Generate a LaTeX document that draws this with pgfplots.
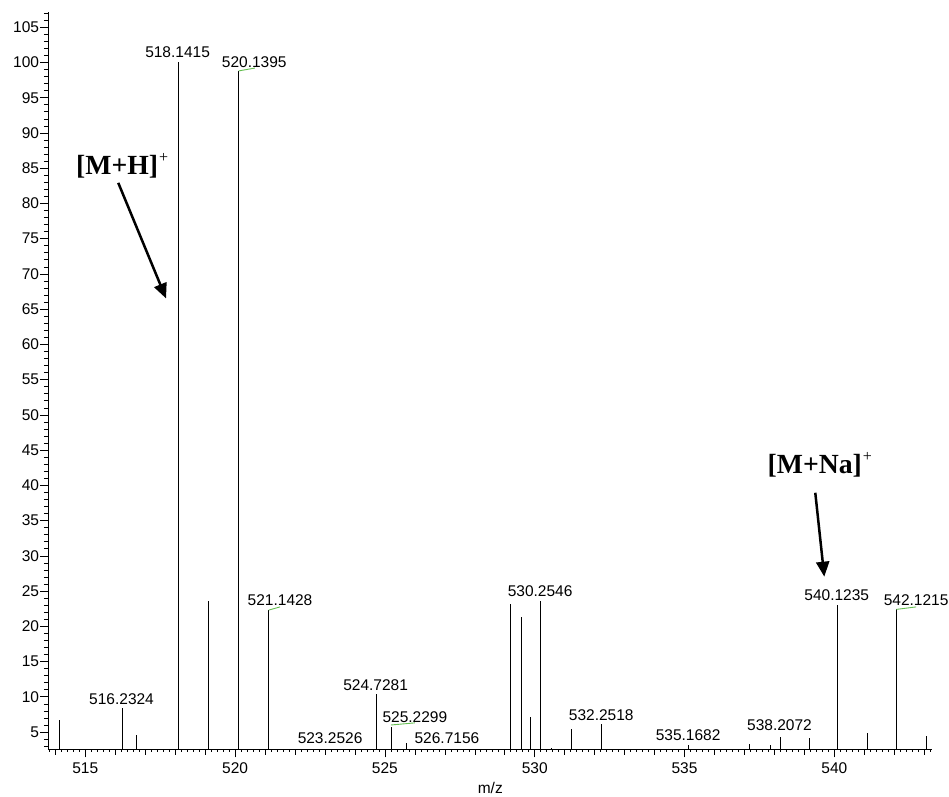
\documentclass[border=0pt]{standalone}
\usepackage{fontspec}
\setmainfont{Liberation Sans}
\newfontfamily\timesfont{Liberation Serif}
\usepackage{pgfplots}
\pgfplotsset{compat=1.18}
\usetikzlibrary{arrows.meta}
\definecolor{lblgreen}{RGB}{100,190,80}
\tikzset{lbl/.style={anchor=base, inner sep=0pt, font=\fontsize{15.5}{18}\selectfont}}
\begin{document}
\fontsize{15.5}{18}\selectfont
\begin{tikzpicture}
\path[use as bounding box] (-48.3pt,-46.7pt) rectangle (900.7pt,749.3pt);
\begin{axis}[
  scale only axis, width=884pt, height=737.6pt,
  at={(0pt,0pt)}, anchor=south west,
  xmin=513.765, xmax=543.27, ymin=2.55, ymax=107.2,
  axis x line=bottom, axis y line=left,
  x axis line style={-}, y axis line style={-},
  axis line style={line width=0.7pt},
  tick align=outside,
  tick style={black, line width=0.6pt},
  xtick={515,520,...,540},
  minor xtick={513.8,514.0,...,543.2},
  ytick={5,10,...,105},
  major tick length=8pt, minor tick length=2.5pt,
  extra x ticks={514,...,543},
  extra x tick labels={},
  extra x tick style={major tick length=5.5pt},
  extra y ticks={3,...,107},
  extra y tick labels={},
  extra y tick style={major tick length=4.5pt},
  /pgf/number format/assume math mode=true,
  every tick label/.append style={font=\fontsize{15.5}{18}\selectfont},
  xticklabel style={/pgf/number format/1000 sep={}},
  yticklabel style={inner xsep=1pt},
  clip mode=individual,
]
\addplot[ycomb, black, line width=0.8pt, mark=none] coordinates {
(514.12,6.7) (516.23,8.37) (516.70,4.6) (518.12,100) (519.10,23.6)
(520.12,98.8) (521.12,22.3) (524.72,10.35) (525.20,5.76) (525.72,3.4)
(529.20,23.1) (529.54,21.3) (529.87,7.1) (530.20,23.6) (530.57,2.8)
(531.22,5.5) (532.22,6.1) (535.13,3.1) (537.15,3.3) (537.85,3.1)
(538.20,4.35) (539.16,4.1) (540.10,23.0) (541.10,4.8) (542.07,22.4)
(543.07,4.5)
};
\addplot[lblgreen, line width=0.9pt, mark=none] coordinates {(520.12,98.8) (520.66,99.2)};
\addplot[lblgreen, line width=0.9pt, mark=none] coordinates {(521.12,22.3) (521.50,22.75)};
\addplot[lblgreen, line width=0.9pt, mark=none] coordinates {(525.20,6.0) (526.00,6.3)};
\addplot[lblgreen, line width=0.9pt, mark=none] coordinates {(542.07,22.4) (542.73,22.75)};

\node[lbl] at (axis cs:518.08,100.7) {518.1415};
\node[lbl] at (axis cs:520.64,99.3) {520.1395};
\node[lbl] at (axis cs:521.50,23.0) {521.1428};
\node[lbl] at (axis cs:516.21,8.94) {516.2324};
\node[lbl] at (axis cs:523.17,3.4) {523.2526};
\node[lbl] at (axis cs:524.69,10.96) {524.7281};
\node[lbl] at (axis cs:526.00,6.4) {525.2299};
\node[lbl] at (axis cs:527.07,3.4) {526.7156};
\node[lbl] at (axis cs:530.18,24.3) {530.2546};
\node[lbl] at (axis cs:532.22,6.7) {532.2518};
\node[lbl] at (axis cs:535.12,3.73) {535.1682};
\node[lbl] at (axis cs:538.17,5.15) {538.2072};
\node[lbl] at (axis cs:540.08,23.73) {540.1235};
\node[lbl] at (axis cs:542.73,23.0) {542.1215};

\node[anchor=base, inner sep=0pt, font=\fontsize{15.5}{18}\selectfont]
  at (axis description cs:0.5,0) [yshift=-43.7pt] {m/z};

\node[anchor=base west, inner sep=0pt, font=\timesfont\bfseries\fontsize{27.7}{30}\selectfont]
  at (axis cs:514.69,84.1) {[M+H]\hspace{1pt}\raisebox{12pt}{\mdseries\fontsize{16}{18}\selectfont +}};
\node[anchor=base west, inner sep=0pt, font=\timesfont\bfseries\fontsize{27.7}{30}\selectfont]
  at (axis cs:537.77,41.7) {[M+Na]\hspace{1pt}\raisebox{12pt}{\mdseries\fontsize{16}{18}\selectfont +}};

\draw[line width=2.5pt, -{Triangle[length=15pt,width=13pt]}]
  (axis cs:516.10,82.92) -- (axis cs:517.695,66.52);
\draw[line width=2.5pt, -{Triangle[length=15pt,width=13pt]}]
  (axis cs:539.364,38.95) -- (axis cs:539.665,27.04);
\end{axis}
\end{tikzpicture}
\end{document}
